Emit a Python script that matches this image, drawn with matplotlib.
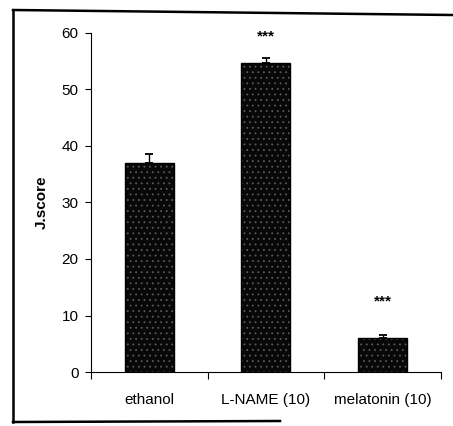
import matplotlib
matplotlib.use("Agg")
import matplotlib.pyplot as plt
from matplotlib.lines import Line2D

plt.rcParams["font.family"] = ["Liberation Sans", "DejaVu Sans"]
plt.rcParams["hatch.linewidth"] = 0.6

groups = ["ethanol", "L-NAME (10)", "melatonin (10)"]
j_score = [37.0, 54.7, 6.0]
sem = [1.6, 0.9, 0.5]
signif = ["", "***", "***"]
signif_y = [0, 59.4, 12.4]
yticks = [0, 10, 20, 30, 40, 50, 60]

W, H = 453, 426
fig = plt.figure(figsize=(W / 100, H / 100), dpi=100)
ax = fig.add_axes([91 / W, 54 / H, 350 / W, 339 / H])

x = list(range(len(groups)))
ax.bar(x, j_score, width=0.42, color="#080808", edgecolor="#5a5a5a",
       hatch="...", linewidth=0, zorder=2)
ax.bar(x, j_score, width=0.42, fill=False, edgecolor="black", linewidth=1.0, zorder=3)
ax.errorbar(x, j_score, yerr=[[0] * len(sem), sem], fmt="none", ecolor="black",
            elinewidth=1.0, capsize=3.2, capthick=1.3, zorder=4)

for xi, yi, s in zip(x, signif_y, signif):
    if s:
        ax.text(xi, yi, s, ha="center", va="center", fontsize=11,
                fontweight="bold")

ax.set_xlim(-0.5, 2.5)
ax.set_ylim(0, 60)
ax.set_yticks(yticks)
ax.set_xticks([-0.5, 0.5, 1.5, 2.5], minor=False)
ax.set_xticklabels([])
ax.set_xticks(x, minor=True)
ax.set_xticklabels(groups, minor=True, fontsize=11)
ax.tick_params(axis="x", which="major", direction="out", length=5, width=0.8)
ax.tick_params(axis="x", which="minor", length=0, pad=15)
ax.tick_params(axis="y", direction="out", length=4, width=0.8, pad=5, labelsize=11)

for side in ["top", "right"]:
    ax.spines[side].set_visible(False)
for side in ["left", "bottom"]:
    ax.spines[side].set_linewidth(0.8)

ax.text(-0.141, 0.5, "J.score", transform=ax.transAxes, rotation=90,
        ha="center", va="center", fontsize=11, fontweight="bold")

# scanned outer frame (left, top, partial bottom)
def px(xp, yp):
    return xp / W, 1 - yp / H

frame_kw = dict(color="black", linewidth=1.8, transform=fig.transFigure)
for (x0, y0), (x1, y1) in [((13, 10), (13, 422)), ((13, 10), (453, 15)),
                           ((13, 422), (280, 421))]:
    a, b = px(x0, y0)
    c, d = px(x1, y1)
    fig.add_artist(Line2D([a, c], [b, d], **frame_kw))

fig.savefig("out.png", dpi=100)
